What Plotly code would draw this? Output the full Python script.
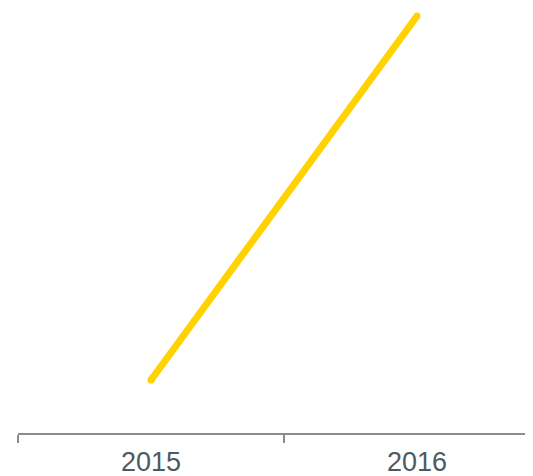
import plotly.graph_objects as go

years = ["2015", "2016"]
values = [20, 60]

fig = go.Figure()
fig.add_trace(go.Scatter(
    x=years, y=values, mode="lines+markers",
    line=dict(color="#FFD200", width=7),
    marker=dict(color="#FFD200", size=7),
    hoverinfo="skip", showlegend=False, cliponaxis=False,
))

fig.update_layout(
    width=533, height=468,
    margin=dict(l=10, r=0, t=0, b=43, pad=0),
    paper_bgcolor="white", plot_bgcolor="white",
    xaxis=dict(
        type="category", range=[-0.5, 1.466],
        tickson="boundaries", ticks="outside", ticklen=8, tickwidth=2,
        tickcolor="#8c8c8c", showline=True, linecolor="#8c8c8c", linewidth=2,
        showgrid=False, zeroline=False, ticklabelstandoff=4,
        tickfont=dict(family="Liberation Sans, Arial, sans-serif", size=27, color="#4d5b60"),
    ),
    yaxis=dict(range=[14.176, 60.879], visible=False, showgrid=False, zeroline=False),
)

fig.write_html("out.html")
